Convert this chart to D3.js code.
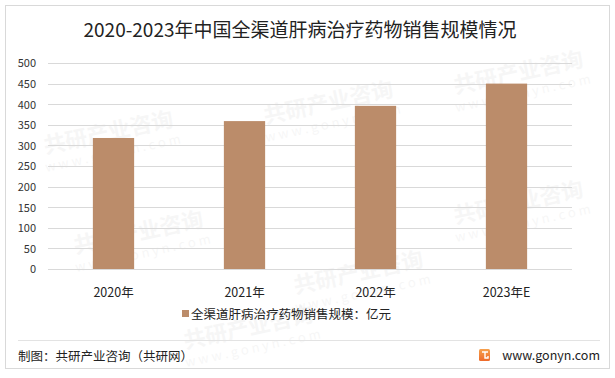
<!DOCTYPE html>
<html>
<head>
    <script src="https://cdnjs.cloudflare.com/ajax/libs/d3/7.8.5/d3.min.js"></script>
    <style>
        body { margin: 0; background: #fff; }
        svg text { font-family: "Noto Sans CJK SC", "Noto Sans", sans-serif; fill: #222; }
        .grid line { stroke: #d9d9d9; stroke-width: 1px; }
        .tick-label { font-size: 11px; fill: #333; }
        .wm { font-size: 22px; font-weight: bold; fill: #000; opacity: 0.03; }
    </style>
</head>
<body>
    <div id="chart"></div>
    <script>
        const years = ["2020年", "2021年", "2022年", "2023年E"];
        const sales = [318, 359, 396, 450];
        const yTicks = [0, 50, 100, 150, 200, 250, 300, 350, 400, 450, 500];
        const seriesName = "全渠道肝病治疗药物销售规模：亿元";
        const title = "2020-2023年中国全渠道肝病治疗药物销售规模情况";

        const width = 615, height = 378;
        const svg = d3.select("#chart").append("svg").attr("width", width).attr("height", height);

        // frame
        svg.append("rect").attr("x", 5.5).attr("y", 5.5).attr("width", 604).attr("height", 363)
            .attr("fill", "#fff").attr("stroke", "#d9d9d9");

        // faint watermark, kept inside the frame
        const wm = svg.append("g");
        [[110, 140], [330, 110], [520, 80], [140, 240], [360, 280], [520, 210], [250, 335]].forEach(p => {
            const g = wm.append("g").attr("transform", `translate(${p[0]},${p[1]}) rotate(-12)`);
            g.append("text").attr("class", "wm").attr("text-anchor", "middle").text("共研产业咨询");
            g.append("text").attr("class", "wm").attr("text-anchor", "middle").attr("y", 18)
                .style("font-size", "13px").style("font-weight", "normal").text("w w w . g o n y n . c o m");
        });

        svg.append("text").attr("x", 300).attr("y", 37).attr("text-anchor", "middle")
            .style("font-size", "19px").text(title);

        const x = d3.scaleBand().domain(years).range([48, 572]).paddingInner(0.685).paddingOuter(0.3425);
        const y = d3.scaleLinear().domain([0, 500]).range([269, 63]);

        const grid = svg.append("g").attr("class", "grid");
        grid.selectAll("line").data(yTicks).join("line")
            .attr("x1", 48).attr("x2", 572)
            .attr("y1", d => Math.round(y(d)) + 0.5).attr("y2", d => Math.round(y(d)) + 0.5);

        const yAxis = svg.append("g").attr("transform", "translate(36,0)")
            .call(d3.axisLeft(y).tickValues(yTicks).tickSize(0).tickPadding(0));
        yAxis.select(".domain").remove();
        yAxis.selectAll("text").attr("class", "tick-label").attr("dy", "0.35em");

        svg.append("g").selectAll("rect").data(sales).join("rect")
            .attr("x", (d, i) => x(years[i]))
            .attr("y", d => y(d))
            .attr("width", x.bandwidth())
            .attr("height", d => y(0) - y(d))
            .attr("fill", "#bb8c6a");

        const xAxis = svg.append("g").attr("transform", "translate(0,269)")
            .call(d3.axisBottom(x).tickSize(0).tickPadding(19));
        xAxis.select(".domain").remove();
        xAxis.selectAll("text").style("font-size", "12.5px").style("fill", "#222");

        // legend
        svg.append("rect").attr("x", 182).attr("y", 310).attr("width", 7).attr("height", 7).attr("fill", "#bb8c6a");
        svg.append("text").attr("x", 191).attr("y", 318.5).style("font-size", "12.5px").text(seriesName);

        // footer
        svg.append("line").attr("x1", 18).attr("x2", 600).attr("y1", 340.5).attr("y2", 340.5)
            .attr("stroke", "#e3e3e3");
        svg.append("text").attr("x", 18).attr("y", 361).style("font-size", "12.5px").text("制图：共研产业咨询（共研网）");
        const grad = svg.append("defs").append("linearGradient").attr("id", "lg").attr("x1", 0).attr("y1", 0).attr("x2", 0).attr("y2", 1);
        grad.append("stop").attr("offset", 0).attr("stop-color", "#f6a04d");
        grad.append("stop").attr("offset", 1).attr("stop-color", "#ee6a2a");
        svg.append("rect").attr("x", 479).attr("y", 349).attr("width", 11).attr("height", 12).attr("rx", 1.5).attr("fill", "url(#lg)");
        svg.append("path").attr("d", "M482,352 h6 M485,352 v6 h3 v-2").attr("stroke", "#fff").attr("stroke-width", 1.4).attr("fill", "none");
        svg.append("text").attr("x", 600).attr("y", 360).attr("text-anchor", "end").style("font-size", "12.5px").text("www.gonyn.com");
    </script>
</body>
</html>
